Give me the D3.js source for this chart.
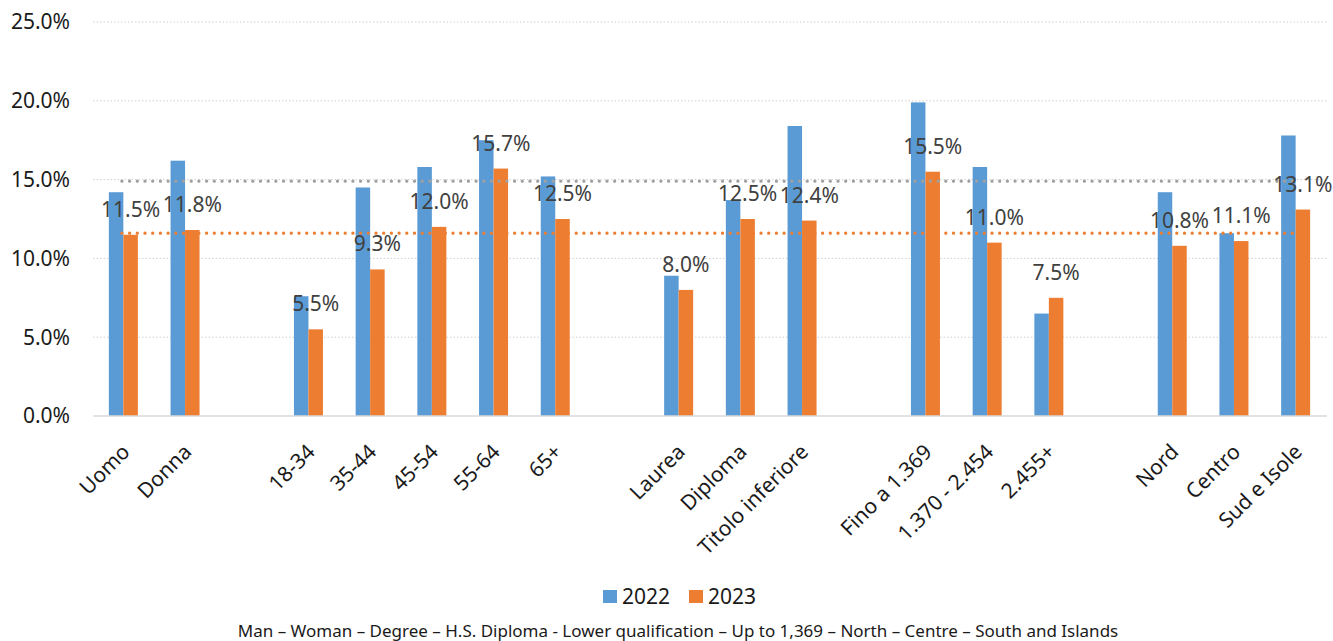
<!DOCTYPE html>
<html>
<head>
<meta charset="utf-8">
<script src="https://cdn.jsdelivr.net/npm/d3@7"></script>
<style>
  body { margin: 0; background: #fff; }
  svg { display: block; font-family: 'Noto Sans', sans-serif; }
</style>
</head>
<body>
<div id="chart"></div>
<script>
const width = 1333
const height = 641

// "" marks an empty slot between groups
const categories = ['Uomo', 'Donna', '', '18-34', '35-44', '45-54', '55-64', '65+', '',
  'Laurea', 'Diploma', 'Titolo inferiore', '', 'Fino a 1.369', '1.370 - 2.454', '2.455+', '',
  'Nord', 'Centro', 'Sud e Isole']
const values2022 = [14.2, 16.2, null, 7.6, 14.5, 15.8, 17.5, 15.2, null,
  8.9, 13.7, 18.4, null, 19.9, 15.8, 6.5, null, 14.2, 11.6, 17.8]
const values2023 = [11.5, 11.8, null, 5.5, 9.3, 12.0, 15.7, 12.5, null,
  8.0, 12.5, 12.4, null, 15.5, 11.0, 7.5, null, 10.8, 11.1, 13.1]
const avg2022 = 14.9
const avg2023 = 11.6
const yTicks = [0, 5, 10, 15, 20, 25]
const seriesNames = ['2022', '2023']
const colors = ['#5b9bd5', '#ed7d31']
const footnote = 'Man \u2013 Woman \u2013 Degree \u2013 H.S. Diploma - Lower qualification \u2013 Up to 1,369 \u2013 North \u2013 Centre \u2013 South and Islands'

const svg = d3.select('#chart').append('svg')
  .attr('width', width)
  .attr('height', height)

const x = d3.scaleBand()
  .domain(d3.range(categories.length))
  .range([93, 1327])

const xs = d3.scaleBand()
  .domain(seriesNames)
  .range([x.bandwidth() / 2 - 15, x.bandwidth() / 2 + 14])

const y = d3.scaleLinear()
  .domain([0, 25])
  .range([416, 22])

// gridlines
svg.append('g')
  .selectAll('line')
  .data(yTicks.filter(d => d > 0))
  .join('line')
  .attr('x1', 93).attr('x2', 1327)
  .attr('y1', d => y(d)).attr('y2', d => y(d))
  .attr('stroke', '#d0d0d0')
  .attr('stroke-width', 1)
  .attr('stroke-dasharray', '1.5,2')

// y labels
svg.append('g')
  .selectAll('text')
  .data(yTicks)
  .join('text')
  .attr('x', 70)
  .attr('y', d => y(d))
  .attr('dy', '0.35em')
  .attr('text-anchor', 'end')
  .attr('font-size', 21)
  .attr('fill', '#1a1a1a')
  .text(d => d3.format('.1f')(d) + '%')

// bars
const rows = categories.map((c, i) => ({ i, c, v: [values2022[i], values2023[i]] }))
  .filter(d => d.c !== '')

const group = svg.append('g')
  .selectAll('g')
  .data(rows)
  .join('g')
  .attr('transform', d => `translate(${x(d.i)},0)`)

group.selectAll('rect')
  .data(d => d.v.map((v, k) => ({ v, k })))
  .join('rect')
  .attr('x', d => xs(seriesNames[d.k]))
  .attr('width', xs.bandwidth())
  .attr('y', d => y(d.v))
  .attr('height', d => y(0) - y(d.v))
  .attr('fill', d => colors[d.k])

// axis line
svg.append('line')
  .attr('x1', 93).attr('x2', 1327)
  .attr('y1', y(0)).attr('y2', y(0))
  .attr('stroke', '#d9d9d9')
  .attr('stroke-width', 1.5)

// average lines
const first = 0
const last = categories.length - 1
;[[avg2022, '#a0a0a0'], [avg2023, '#ed7d31']].forEach(([a, col]) => {
  svg.append('line')
    .attr('x1', x(first) + x.bandwidth() / 2 - 2)
    .attr('x2', x(last) + x.bandwidth() / 2)
    .attr('y1', y(a)).attr('y2', y(a))
    .attr('stroke', col)
    .attr('stroke-width', 3.2)
    .attr('stroke-linecap', 'round')
    .attr('stroke-dasharray', '0.1,7.6')
})

// data labels 2023
svg.append('g')
  .selectAll('text')
  .data(rows)
  .join('text')
  .attr('x', d => x(d.i) + xs('2023') + xs.bandwidth() / 2)
  .attr('y', d => y(d.v[1]) - 18)
  .attr('text-anchor', 'middle')
  .attr('font-size', 21)
  .attr('fill', '#404040')
  .text(d => d3.format('.1f')(d.v[1]) + '%')

// x labels
svg.append('g')
  .selectAll('text')
  .data(rows)
  .join('text')
  .attr('transform', d => `translate(${x(d.i) + x.bandwidth() / 2 + 2},448) rotate(-45)`)
  .attr('text-anchor', 'end')
  .attr('dy', '0.35em')
  .attr('font-size', 21)
  .attr('fill', '#1a1a1a')
  .text(d => d.c)

// legend
const legend = svg.append('g')
  .selectAll('g')
  .data(seriesNames)
  .join('g')
  .attr('transform', (d, i) => `translate(${603 + i * 86},590)`)
legend.append('rect')
  .attr('width', 14).attr('height', 13)
  .attr('fill', (d, i) => colors[i])
legend.append('text')
  .attr('x', 19).attr('y', 14)
  .attr('font-size', 21)
  .attr('fill', '#1a1a1a')
  .text(d => d)

// footnote
svg.append('text')
  .attr('x', 678)
  .attr('y', 637)
  .attr('text-anchor', 'middle')
  .attr('font-size', 17)
  .attr('fill', '#1a1a1a')
  .text(footnote)
</script>
</body>
</html>
